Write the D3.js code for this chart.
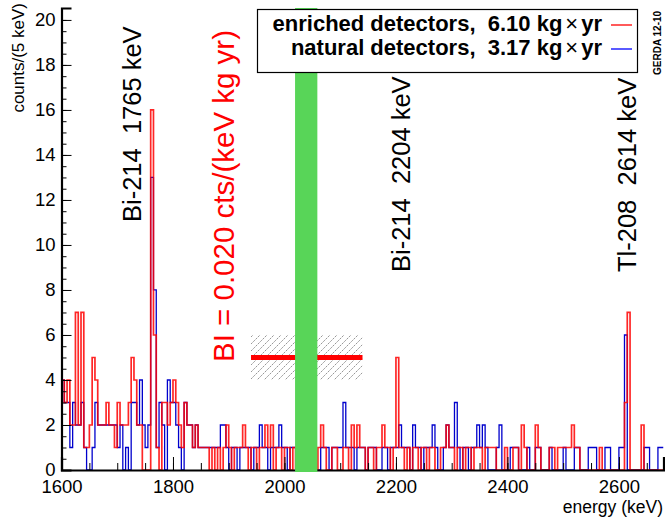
<!DOCTYPE html>
<html>
<head>
<meta charset="utf-8">
<script src="https://cdn.jsdelivr.net/npm/d3@7"></script>
<style>
body { margin: 0; background: #fff; }
svg text { font-family: "Liberation Sans", Arial, sans-serif; white-space: pre; }
</style>
</head>
<body>
<div id="vis"></div>
<script>
// histogram: 5 keV bins from 1600 to 2680 keV
const binWidth = 5, eMin = 1600, eMax = 2680;

// counts per bin, enriched detectors (red)
const enriched = [
  4,3,4,2,2,7,2,7,1,1, 2,5,4,2,2,2,3,2,2,1,
  3,2,2,2,3,5,4,2,2,0, 0,0,16,6,1,0,3,3,2,3,
  4,3,2,1,3,2,2,1,2,1, 1,1,1,0,1,0,1,0,1,2,
  1,0,1,1,1,2,1,0,1,1, 0,1,1,2,1,2,0,1,1,0,
  1,1,0,1,0,0,0,0,0,0, 0,0,1,2,1,0,0,1,1,0,
  0,1,1,0,2,1,2,1,1,0, 1,1,0,1,1,2,1,1,0,1,
  5,1,1,0,1,0,1,1,0,1, 1,0,1,1,0,0,1,1,2,1,
  1,0,1,1,0,1,1,0,1,1, 1,0,1,1,1,1,0,0,0,1,
  0,0,1,1,0,2,1,0,0,0, 2,1,0,0,0,1,1,0,1,1,
  1,1,1,2,1,1,0,0,0,0, 0,0,0,1,0,0,0,0,0,0,
  0,0,3,7,0,0,0,0,2,0, 0,0,0,0,0,0
];

// counts per bin, natural detectors (blue)
const natural = [
  4,3,3,1,3,2,2,3,1,0, 0,1,3,2,2,2,2,2,2,2,
  1,2,0,1,0,3,3,2,4,2, 1,2,13,8,1,3,2,0,4,3,
  3,2,1,0,3,2,2,1,2,1, 1,1,1,1,1,1,1,2,2,1,
  0,1,1,0,1,1,1,1,0,1, 1,2,1,1,0,1,1,1,2,1,
  1,0,1,1,0,0,0,0,0,0, 0,0,0,1,1,1,0,1,1,1,
  1,3,1,1,1,0,1,1,1,0, 1,1,1,0,0,1,1,0,1,1,
  1,2,1,1,1,0,2,1,1,0, 1,1,1,2,1,0,0,1,2,1,
  1,3,1,0,1,1,0,1,1,2, 1,2,1,0,0,0,1,2,0,0,
  0,1,1,1,0,0,0,1,0,0, 1,1,0,0,0,1,0,0,0,0,
  1,0,0,0,1,1,0,0,0,1, 1,1,0,0,0,1,1,0,0,0,
  1,1,6,0,0,0,0,0,0,1, 1,0,0,0,1,1
];

const blindWindow = [2019, 2059];          // keV, green band
const biValue = 5, biBand = [4, 6];        // drawn level of the background index
const biRange = [1940, 2140];              // keV

const xTicks = [1600, 1800, 2000, 2200, 2400, 2600];
const yTicks = [0, 2, 4, 6, 8, 10, 12, 14, 16, 18, 20];

const legendItems = ["enriched detectors,  6.10 kg", "natural detectors,  3.17 kg"];
const lineLabels = ["Bi-214  1765 keV", "Bi-214  2204 keV", "Tl-208  2614 keV"];
const lineLabelPos = [[1724, 222], [2206, 272], [2611, 272]];   // [keV, pixel y of text start]

const width = 665, height = 517;
const margin = {left: 61.5, right: 1.5, top: 8, bottom: 47};

const svg = d3.select("#vis").append("svg")
    .attr("width", width)
    .attr("height", height);

const x = d3.scaleLinear().domain([eMin, eMax]).range([margin.left, width - margin.right]);
const y = d3.scaleLinear().domain([0, 20.53]).range([height - margin.bottom, margin.top]);

const defs = svg.append("defs");
defs.append("clipPath").attr("id", "plot")
  .append("rect")
    .attr("x", x(eMin)).attr("y", y(20.53))
    .attr("width", x(eMax) - x(eMin)).attr("height", y(0) - y(20.53));

const hatch = defs.append("pattern")
    .attr("id", "hatch")
    .attr("patternUnits", "userSpaceOnUse")
    .attr("width", 7).attr("height", 7);
hatch.append("path")
    .attr("d", "M-1,8 L8,-1")
    .attr("stroke", "#8a8a8a")
    .attr("stroke-width", 0.9)
    .attr("stroke-dasharray", "2.2,1");

// step outline of a histogram, ROOT style
function stepPoints(counts) {
  const pts = [[eMin, 0]];
  counts.forEach((c, i) => pts.push([eMin + i * binWidth, c]));
  pts.push([eMax, counts[counts.length - 1]]);
  return pts;
}
const step = d3.line()
    .x(d => x(d[0]))
    .y(d => y(d[1]))
    .curve(d3.curveStepAfter);

const plot = svg.append("g").attr("clip-path", "url(#plot)");

// background index band
plot.append("rect")
    .attr("x", x(biRange[0])).attr("y", y(biBand[1]))
    .attr("width", x(biRange[1]) - x(biRange[0]))
    .attr("height", y(biBand[0]) - y(biBand[1]))
    .attr("fill", "url(#hatch)");
plot.append("line")
    .attr("x1", x(biRange[0])).attr("x2", x(biRange[1]))
    .attr("y1", y(biValue)).attr("y2", y(biValue))
    .attr("stroke", "#ff0000")
    .attr("stroke-width", 5);

plot.append("path")
    .attr("d", step(stepPoints(natural)))
    .attr("fill", "none")
    .attr("stroke", "#0000cc")
    .attr("stroke-width", 1.3);

plot.append("path")
    .attr("d", step(stepPoints(enriched)))
    .attr("fill", "none")
    .attr("stroke", "#ff0000")
    .attr("stroke-opacity", 0.85)
    .attr("stroke-width", 1.7);

// axes, ticks pointing inward
const xAxis = svg.append("g")
    .attr("transform", `translate(0,${y(0)})`)
    .call(d3.axisBottom(x).tickValues(xTicks).tickSize(-13).tickPadding(10).tickFormat(d3.format("d")));
svg.append("g")
    .attr("transform", `translate(0,${y(0)})`)
    .call(d3.axisBottom(x).tickValues(d3.range(eMin, eMax + 1, 50)).tickSize(-7).tickFormat(""))
    .select(".domain").remove();

const yAxis = svg.append("g")
    .attr("transform", `translate(${x(eMin)},0)`)
    .call(d3.axisLeft(y).tickValues(yTicks).tickSize(-10).tickPadding(6));
svg.append("g")
    .attr("transform", `translate(${x(eMin)},0)`)
    .call(d3.axisLeft(y).tickValues(d3.range(0, 20.01, 0.5)).tickSize(-5).tickFormat(""))
    .select(".domain").remove();

svg.selectAll(".tick line").attr("stroke", "#000").attr("stroke-width", 1);
svg.selectAll(".domain").attr("stroke", "#000").attr("stroke-width", 2.2);
xAxis.selectAll(".tick text").attr("font-size", 18.5).attr("fill", "#000")
    .attr("font-family", "Liberation Sans, Arial, sans-serif");
yAxis.selectAll(".tick text").attr("font-size", 18.5).attr("fill", "#000")
    .attr("font-family", "Liberation Sans, Arial, sans-serif")
    .attr("dy", "0.3em");

// blinded window
svg.append("rect")
    .attr("x", x(blindWindow[0])).attr("y", y(20.53))
    .attr("width", x(blindWindow[1]) - x(blindWindow[0]))
    .attr("height", y(0) - y(20.53) + 2)
    .attr("fill", "#58d558");

// axis titles
svg.append("text")
    .attr("transform", "translate(24,3) rotate(-90)")
    .attr("text-anchor", "end")
    .attr("font-size", 17)
    .text("counts/(5 keV)");
svg.append("text")
    .attr("x", width - 2).attr("y", 513)
    .attr("text-anchor", "end")
    .attr("font-size", 17.5)
    .text("energy (keV)");

// line labels
lineLabels.forEach((t, i) => {
  svg.append("text")
      .attr("transform", `translate(${x(lineLabelPos[i][0]) + 10.5},${lineLabelPos[i][1]}) rotate(-90)`)
      .attr("font-size", 25.5)
      .text(t);
});

svg.append("text")
    .attr("transform", "translate(234,362) rotate(-90)")
    .attr("font-size", 29.5)
    .attr("fill", "#ff0000")
    .text("BI = 0.020 cts/(keV kg yr)");

// legend
const legend = svg.append("g");
legend.append("rect")
    .attr("x", 257.5).attr("y", 9.5).attr("width", 380).attr("height", 63)
    .attr("fill", "#fff").attr("stroke", "#000").attr("stroke-width", 1.2);
const legendColors = ["#ff0000", "#0000ff"];
legendItems.forEach((t, i) => {
  const yy = 31 + i * 24;
  const txt = legend.append("text")
      .attr("x", 602).attr("y", yy)
      .attr("text-anchor", "end")
      .attr("font-size", 22)
      .attr("font-weight", "bold");
  txt.append("tspan").text(t);
  txt.append("tspan").attr("font-weight", "normal").attr("dx", 3).text("×");
  txt.append("tspan").attr("dx", 3).text("yr");
  legend.append("line")
      .attr("x1", 611).attr("x2", 632)
      .attr("y1", yy - 6).attr("y2", yy - 6)
      .attr("stroke", legendColors[i]).attr("stroke-width", 1.3);
});

svg.append("text")
    .attr("transform", "translate(661,75) rotate(-90)")
    .attr("font-size", 10)
    .attr("font-weight", "bold")
    .text("GERDA 12-10");
</script>
</body>
</html>
